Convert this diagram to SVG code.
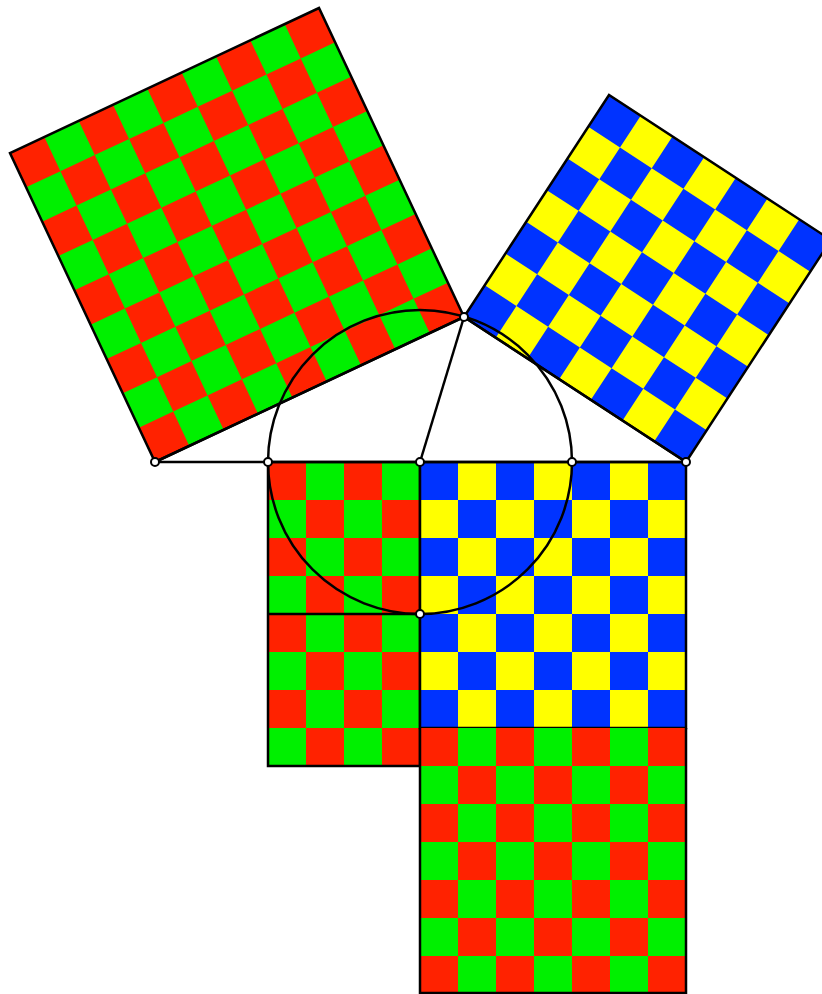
<svg xmlns="http://www.w3.org/2000/svg" width="822" height="994" viewBox="0 0 822 994">
<style>
.ln{fill:none;stroke:#000;stroke-width:2.5;stroke-linejoin:miter}
.pt{fill:#fff;stroke:#000;stroke-width:2}
.red{fill:#ff2200}
.grn{fill:#00f000}
.blu{fill:#0033ff}
.yel{fill:#ffff00}
</style>
<defs>
<pattern id="rg1" patternUnits="userSpaceOnUse" x="268" y="462" width="76" height="76">
<rect width="76" height="76" class="grn"/><rect width="38" height="38" class="red"/><rect x="38" y="38" width="38" height="38" class="red"/>
</pattern>
<pattern id="rg2" patternUnits="userSpaceOnUse" x="420" y="728" width="76" height="76">
<rect width="76" height="76" class="grn"/><rect width="38" height="38" class="red"/><rect x="38" y="38" width="38" height="38" class="red"/>
</pattern>
<pattern id="by1" patternUnits="userSpaceOnUse" x="420" y="462" width="76" height="76">
<rect width="76" height="76" class="yel"/><rect width="38" height="38" class="blu"/><rect x="38" y="38" width="38" height="38" class="blu"/>
</pattern>
</defs>
<g id="square-green">
<g transform="matrix(34.3333 -16.1111 -16.1111 -34.3333 155 462)">
<rect width="9" height="9" class="red"/>
<path class="grn" d="M1 0h1v1h-1zM3 0h1v1h-1zM5 0h1v1h-1zM7 0h1v1h-1z
M0 1h1v1h-1zM2 1h1v1h-1zM4 1h1v1h-1zM6 1h1v1h-1zM8 1h1v1h-1z
M1 2h1v1h-1zM3 2h1v1h-1zM5 2h1v1h-1zM7 2h1v1h-1z
M0 3h1v1h-1zM2 3h1v1h-1zM4 3h1v1h-1zM6 3h1v1h-1zM8 3h1v1h-1z
M1 4h1v1h-1zM3 4h1v1h-1zM5 4h1v1h-1zM7 4h1v1h-1z
M0 5h1v1h-1zM2 5h1v1h-1zM4 5h1v1h-1zM6 5h1v1h-1zM8 5h1v1h-1z
M1 6h1v1h-1zM3 6h1v1h-1zM5 6h1v1h-1zM7 6h1v1h-1z
M0 7h1v1h-1zM2 7h1v1h-1zM4 7h1v1h-1zM6 7h1v1h-1zM8 7h1v1h-1z
M1 8h1v1h-1zM3 8h1v1h-1zM5 8h1v1h-1zM7 8h1v1h-1z"/>
</g>
<polygon class="ln" points="155,462 464,317 319,8 10,153"/>
</g>
<g id="square-blue">
<g transform="matrix(31.7143 20.7143 20.7143 -31.7143 464 317)">
<rect width="7" height="7" class="blu"/>
<path class="yel" d="M1 0h1v1h-1zM3 0h1v1h-1zM5 0h1v1h-1z
M0 1h1v1h-1zM2 1h1v1h-1zM4 1h1v1h-1zM6 1h1v1h-1z
M1 2h1v1h-1zM3 2h1v1h-1zM5 2h1v1h-1z
M0 3h1v1h-1zM2 3h1v1h-1zM4 3h1v1h-1zM6 3h1v1h-1z
M1 4h1v1h-1zM3 4h1v1h-1zM5 4h1v1h-1z
M0 5h1v1h-1zM2 5h1v1h-1zM4 5h1v1h-1zM6 5h1v1h-1z
M1 6h1v1h-1zM3 6h1v1h-1zM5 6h1v1h-1z"/>
</g>
<polygon class="ln" points="464,317 686,462 831,240 609,95"/>
</g>
<g id="rect-left">
<rect x="268" y="462" width="152" height="304" fill="url(#rg1)"/>
<rect class="ln" x="268" y="462" width="152" height="304"/>
</g>
<g id="rect-right-upper">
<rect x="420" y="462" width="266" height="266" fill="url(#by1)"/>
<rect class="ln" x="420" y="462" width="266" height="266"/>
</g>
<g id="rect-right-lower">
<rect x="420" y="728" width="266" height="266" fill="url(#rg2)"/>
<path class="ln" d="M420 728V993H686V728"/>
</g>
<g id="connectors">
<line class="ln" x1="155" y1="462" x2="686" y2="462"/>
<line class="ln" x1="155" y1="462" x2="464" y2="317"/>
<line class="ln" x1="464" y1="317" x2="686" y2="462"/>
<line class="ln" x1="464" y1="317" x2="420" y2="462"/>
<line class="ln" x1="268" y1="614" x2="420" y2="614"/>
<circle class="ln" cx="420" cy="462" r="152"/>
</g>
<g id="points">
<circle class="pt" cx="155" cy="462" r="4"/>
<circle class="pt" cx="268" cy="462" r="4"/>
<circle class="pt" cx="420" cy="462" r="4"/>
<circle class="pt" cx="572" cy="462" r="4"/>
<circle class="pt" cx="686" cy="462" r="4"/>
<circle class="pt" cx="464" cy="317" r="4"/>
<circle class="pt" cx="420" cy="614" r="4"/>
</g>
</svg>
